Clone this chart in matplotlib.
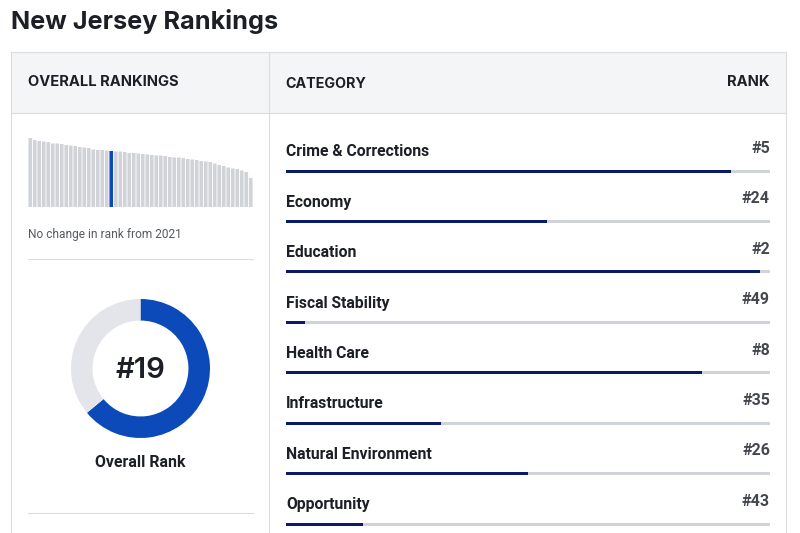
#!/usr/bin/python
#coding=utf-8

import matplotlib
matplotlib.use('Agg')
import matplotlib.pyplot as plt

W, H = 800, 533

# overall rankings, bar heights (state order, best first)
overall = [69, 67, 66, 65.5, 65, 63.5, 63.5, 63, 62, 61.5, 61, 60, 59.5, 59, 57.5, 57, 57, 56.5, 56,
           55.5, 55.5, 55, 54, 54, 53.5, 53, 52.5, 52, 51.5, 51.5, 51, 50, 49.5, 49.5, 49, 48, 47.5,
           47, 46, 45.5, 45, 43.5, 42, 41, 39.5, 38.5, 38, 36.5, 35, 29]
overall_pos = 18
donut_vals = [64, 36]

categories = ['Crime & Corrections', 'Economy', 'Education', 'Fiscal Stability',
              'Health Care', 'Infrastructure', 'Natural Environment', 'Opportunity']
ranks = ['#5', '#24', '#2', '#49', '#8', '#35', '#26', '#43']
fills = [92, 54, 98, 4, 86, 32, 50, 16]

DARK = '#1c1f26'
BLUE = '#0b4ab8'
NAVY = '#0a1a66'
GREY = '#d0d3d8'
LINE = '#dcdddf'


def px_axes(x0, y0, x1, y1):
    # axes placed by pixel box, y counted from the top
    ax = fig.add_axes([x0 / W, 1 - y1 / H, (x1 - x0) / W, (y1 - y0) / H])
    ax.axis('off')
    return ax


fig = plt.figure(figsize=(W / 100, H / 100), dpi=100, facecolor='white')

# page frame
page = px_axes(0, 0, W, H)
page.set_xlim(0, W)
page.set_ylim(H, 0)
page.fill_between([11, 785.5], 52, 113, color='#f4f5f7', lw=0)
page.plot([11, 11], [52, H], color=LINE, lw=0.8)
page.plot([785.5, 785.5], [52, H], color=LINE, lw=0.8)
page.plot([268.8, 268.8], [52, H], color=LINE, lw=0.8)
page.plot([11, 785.5], [52, 52], color=LINE, lw=0.8)
page.plot([11, 785.5], [113, 113], color=LINE, lw=0.8)
page.plot([27.5, 252.5], [258.5, 258.5], color=LINE, lw=0.8)
page.plot([27.5, 252.5], [513, 513], color=LINE, lw=0.8)

page.text(11, 22, 'New Jersey Rankings', fontsize=18.2, fontweight='bold', family='Inter',
          color=DARK, va='center', ha='left')
page.text(28, 82.5, 'OVERALL RANKINGS', fontsize=10.6, fontweight='bold', family='Inter',
          color=DARK, va='center', ha='left')
page.text(285.5, 83.5, 'CATEGORY', fontsize=10.3, fontweight='bold', family='Inter',
          color=DARK, va='center', ha='left')
page.text(770, 82.5, 'RANK', fontsize=10.6, fontweight='bold', family='Inter',
          color=DARK, va='center', ha='right')
page.text(28, 234.5, 'No change in rank from 2021', fontsize=8.55, family='Roboto',
          color='#555a60', va='center', ha='left')
page.text(140.5, 462.5, 'Overall Rank', fontsize=11.4, fontweight='bold', family='Roboto',
          color=DARK, va='center', ha='center')

# small bar chart of all states
spark = px_axes(28, 138, 253, 207)
colors = [BLUE if i == overall_pos else GREY for i in range(len(overall))]
spark.bar(range(len(overall)), overall, width=0.8, color=colors, lw=0, snap=False)
spark.set_xlim(-0.5, len(overall) - 0.5)
spark.set_ylim(0, 69)

# donut
donut = px_axes(71, 299, 210, 438)
donut.pie(donut_vals, colors=[BLUE, '#e3e5ea'], startangle=90, counterclock=False,
          radius=1, wedgeprops=dict(width=0.31, lw=0))
donut.set_xlim(-1, 1)
donut.set_ylim(-1, 1)
donut.text(0, -0.03, '#19', fontsize=21, family='Inter', fontweight='semibold', color=DARK,
           ha='center', va='center')

# category bars
row = 50.43
bars = px_axes(286, 171 - 0.5 * row, 770, H)
bars.barh(range(len(categories)), [100] * len(categories), height=3 / row, color=GREY, lw=0)
bars.barh(range(len(categories)), fills, height=3 / row, color=NAVY, lw=0)
bars.set_xlim(0, 100)
bars.set_ylim((H - 171) / row, -0.5)
for i, (name, rk) in enumerate(zip(categories, ranks)):
    bars.text(0, i - 0.38, name, fontsize=11.35, fontweight='bold', family='Roboto',
              color=DARK, va='center', ha='left', clip_on=False)
    bars.text(100, i - 0.45, rk, fontsize=11.5, fontweight='bold', family='Roboto',
              color='#44484e', va='center', ha='right', clip_on=False)

fig.savefig('out.png', dpi=100)
